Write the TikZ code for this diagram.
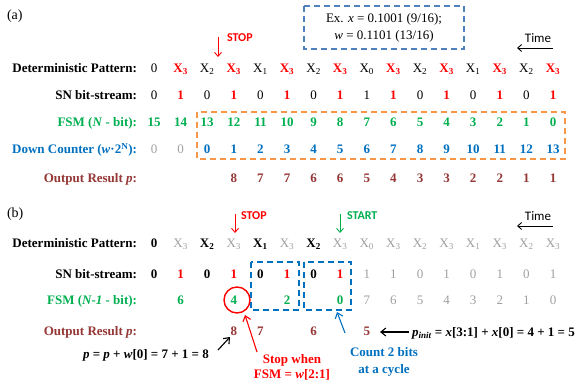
\documentclass[tikz,border=0pt]{standalone}
\usepackage{fontspec}
\setmainfont{Liberation Serif}
\newfontfamily\sansf{Carlito}
\usetikzlibrary{arrows.meta}
\definecolor{cred}{HTML}{FF0000}
\definecolor{cgreen}{HTML}{00B050}
\definecolor{cblue}{HTML}{0070C0}
\definecolor{cbrown}{HTML}{953735}
\definecolor{cgray}{HTML}{A0A0A0}
\definecolor{corange}{HTML}{F79646}
\definecolor{cexblue}{HTML}{4F81BD}
\newcommand\Xs[1]{X\textsubscript{#1}}
\begin{document}
\begin{tikzpicture}[x=1pt,y=-1pt,
  every node/.style={inner sep=0pt,outer sep=0pt},
  lab/.style={anchor=base east,font=\fontsize{13}{15}\selectfont\bfseries},
  cell/.style={anchor=base,font=\fontsize{13}{15}\selectfont},
  sn/.style={text=black},
  sk/.style={text=black,font=\fontsize{13}{15}\selectfont\bfseries},
  sr/.style={text=cred,font=\fontsize{13}{15}\selectfont\bfseries},
  sg/.style={text=cgray},
  sgr/.style={text=cgreen,font=\fontsize{13}{15}\selectfont\bfseries},
  sbl/.style={text=cblue,font=\fontsize{13}{15}\selectfont\bfseries},
  sbr/.style={text=cbrown,font=\fontsize{13}{15}\selectfont\bfseries},
  sans/.style={font=\fontsize{12}{14}\selectfont\sansf\bfseries},
  thinarrow/.style={-{Straight Barb[length=4pt,width=7pt]},line width=0.9pt},
  boldarrow/.style={-{Straight Barb[length=5pt,width=8pt]},line width=1.1pt},
  dbox/.style={dashed,dash pattern=on 6pt off 4pt,line width=1.5pt}
]
\fill[white] (0,0) rectangle (577,387);
\useasboundingbox (0,0) rectangle (577,387);

% ================= (a) =================
\node[anchor=base west,font=\fontsize{14}{16}\selectfont] (alab) at (7,20) {(a)};

\draw[dbox,cexblue] (304,6) rectangle (464,49);
\node[align=center,font=\fontsize{13}{17}\selectfont] (ex) at (384,27.5)
  {Ex. \textit{x} = 0.1001 (9/16);\\ \textit{w} = 0.1101 (13/16)};

\node[sans,text=cred,anchor=west] (astop) at (227,38) {STOP};
\coordinate (asa) at (218,37);
\coordinate (asb) at (218,57);
\draw[thinarrow,cred] (asa) -- (asb);

\node[font=\fontsize{13}{15}\selectfont\sansf] (atime) at (538,38) {Time};
\coordinate (ata) at (553,48);
\coordinate (atb) at (517,48);
\draw[thinarrow] (ata) -- (atb);

\node[lab] (al1) at (137,72.5) {Deterministic Pattern:};
\node[lab] (al2) at (137,99.5) {SN bit-stream:};
\node[lab,text=cgreen] (al3) at (137,126.5) {FSM (\textit{N} - bit):};
\node[lab,text=cblue] (al4) at (137,153.5) {Down Counter (\textit{w}·2\textsuperscript{N}):};
\node[lab,text=cbrown] (al5) at (137,182.5) {Output Result \textit{p}:};

\foreach \i/\t/\s in {0/0/sn,1/\Xs3/sr,2/\Xs2/sn,3/\Xs3/sr,4/\Xs1/sn,5/\Xs3/sr,6/\Xs2/sn,7/\Xs3/sr,8/\Xs0/sn,9/\Xs3/sr,10/\Xs2/sn,11/\Xs3/sr,12/\Xs1/sn,13/\Xs3/sr,14/\Xs2/sn,15/\Xs3/sr}
  \node[cell,\s] (adp\i) at ({154+26.6*\i},72.5) {\t};

\foreach \i/\t/\s in {0/0/sn,1/1/sr,2/0/sn,3/1/sr,4/0/sn,5/1/sr,6/0/sn,7/1/sr,8/1/sn,9/1/sr,10/0/sn,11/1/sr,12/0/sn,13/1/sr,14/0/sn,15/1/sr}
  \node[cell,\s] (asn\i) at ({154+26.6*\i},99.5) {\t};

\foreach \i in {0,...,15}{
  \pgfmathtruncatemacro\v{15-\i}
  \node[cell,sgr] (afsm\i) at ({154+26.6*\i},126.5) {\v};
}
\node[cell,sg] (adc0) at (154,153.5) {0};
\node[cell,sg] (adc1) at (180.6,153.5) {0};
\foreach \i in {2,...,15}{
  \pgfmathtruncatemacro\v{\i-2}
  \node[cell,sbl] (adc\i) at ({154+26.6*\i},153.5) {\v};
}
\foreach \i/\t in {3/8,4/7,5/7,6/6,7/6,8/5,9/4,10/3,11/3,12/2,13/2,14/1,15/1}
  \node[cell,sbr] (aor\i) at ({154+26.6*\i},182.5) {\t};

\draw[dbox,corange] (197,112) rectangle (565,159);

% ================= (b) =================
\node[anchor=base west,font=\fontsize{14}{16}\selectfont] (blab) at (7,217) {(b)};

\node[sans,text=cred,anchor=west] (bstop) at (241,216) {STOP};
\coordinate (bsa) at (235,214);
\coordinate (bsb) at (235,233);
\draw[thinarrow,cred] (bsa) -- (bsb);

\node[sans,text=cgreen,anchor=west] (bstart) at (347,216) {START};
\coordinate (bta) at (340,214);
\coordinate (btb) at (340,233);
\draw[thinarrow,cgreen] (bta) -- (btb);

\node[font=\fontsize{13}{15}\selectfont\sansf] (btime) at (538,216) {Time};
\coordinate (bti1) at (553,226);
\coordinate (bti2) at (517,226);
\draw[thinarrow] (bti1) -- (bti2);

\node[lab] (bl1) at (137,247.5) {Deterministic Pattern:};
\node[lab] (bl2) at (137,278.5) {SN bit-stream:};
\node[lab,text=cgreen] (bl3) at (137,304.5) {FSM (\textit{N-1} - bit):};
\node[lab,text=cbrown] (bl4) at (137,335.5) {Output Result \textit{p}:};

\foreach \i/\t/\s in {0/0/sk,1/\Xs3/sg,2/\Xs2/sk,3/\Xs3/sg,4/\Xs1/sk,5/\Xs3/sg,6/\Xs2/sk,7/\Xs3/sg,8/\Xs0/sg,9/\Xs3/sg,10/\Xs2/sg,11/\Xs3/sg,12/\Xs1/sg,13/\Xs3/sg,14/\Xs2/sg,15/\Xs3/sg}
  \node[cell,\s] (bdp\i) at ({154+26.6*\i},247.5) {\t};

\foreach \i/\t/\s in {0/0/sk,1/1/sr,2/0/sk,3/1/sr,4/0/sk,5/1/sr,6/0/sk,7/1/sr,8/1/sg,9/1/sg,10/0/sg,11/1/sg,12/0/sg,13/1/sg,14/0/sg,15/1/sg}
  \node[cell,\s] (bsn\i) at ({154+26.6*\i},278.5) {\t};

\foreach \i/\t/\s in {1/6/sgr,3/4/sgr,5/2/sgr,7/0/sgr,8/7/sg,9/6/sg,10/5/sg,11/4/sg,12/3/sg,13/2/sg,14/1/sg,15/0/sg}
  \node[cell,\s] (bfsm\i) at ({154+26.6*\i},304.5) {\t};

\foreach \i/\t in {3/8,4/7,6/6,8/5}
  \node[cell,sbr] (bor\i) at ({154+26.6*\i},335.5) {\t};

\draw[dbox,cblue] (251,262) rectangle (299,310);
\draw[dbox,cblue] (304,262) rectangle (351,310);

\node[circle,draw=cred,line width=1.4pt,minimum size=26pt] (circ) at (237,300) {};

% annotations
\node[anchor=base west,font=\fontsize{13}{15}\selectfont\bfseries] (form1) at (83,358.5)
  {\textit{p} = \textit{p} + \textit{w}[0] = 7 + 1 = 8};
\coordinate (f1a) at (218,350);
\coordinate (f1b) at (230,337);
\draw[boldarrow] (f1a) -- (f1b);

\node[align=center,text=cred,font=\fontsize{13}{15}\selectfont\bfseries] (stopw) at (292,367.5)
  {Stop when\\FSM = \textit{w}[2:1]};
\coordinate (sw1) at (257,352);
\coordinate (sw2) at (245,315);
\draw[boldarrow,cred] (sw1) -- (sw2);

\node[align=center,text=cblue,font=\fontsize{13}{17}\selectfont\bfseries] (cnt) at (384,361.5)
  {Count 2 bits\\at a cycle};
\coordinate (cn1) at (345,333);
\coordinate (cn2) at (337,312);
\draw[boldarrow,cblue] (cn1) -- (cn2);

\node[anchor=base west,font=\fontsize{13}{15}\selectfont\bfseries] (pinit) at (412,336.5)
  {\textit{p\textsubscript{init}} = \textit{x}[3:1] + \textit{x}[0] = 4 + 1 = 5};
\coordinate (pi1) at (409,332);
\coordinate (pi2) at (380,332);
\draw[boldarrow] (pi1) -- (pi2);
\end{tikzpicture}
\end{document}
